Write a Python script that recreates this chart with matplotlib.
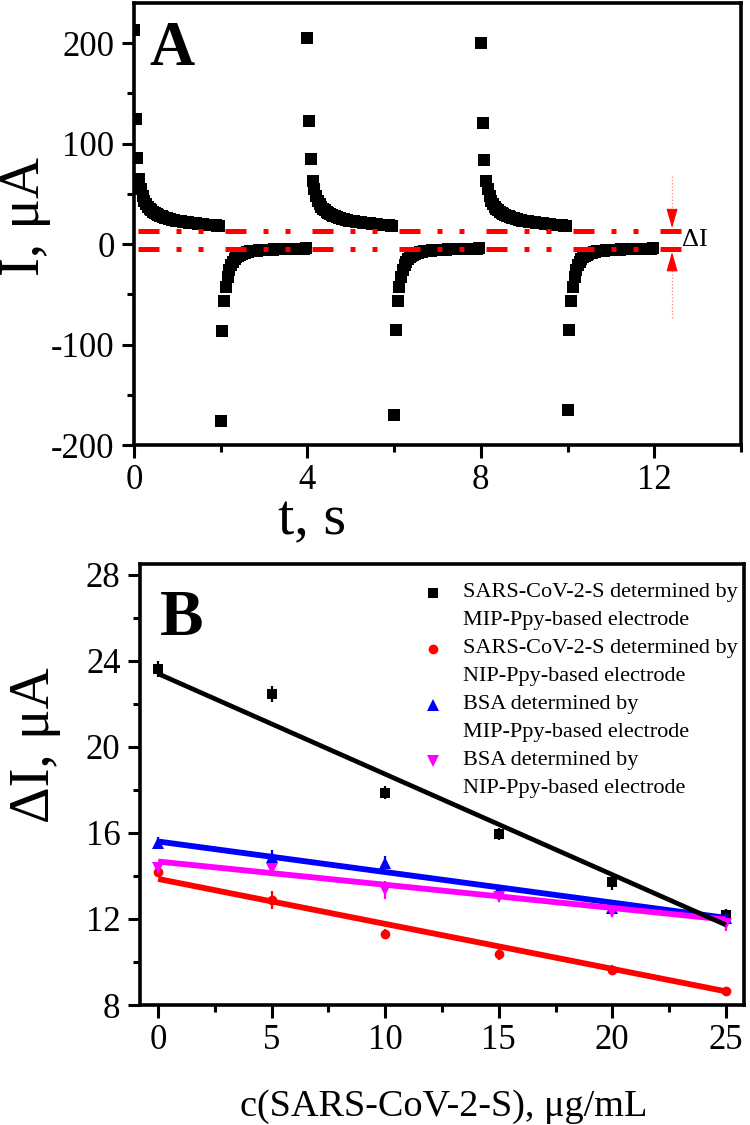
import numpy as np
import matplotlib
matplotlib.use('Agg')
import matplotlib.pyplot as plt
from matplotlib.ticker import MultipleLocator

plt.rcParams['font.family'] = ['Liberation Serif', 'DejaVu Serif']
plt.rcParams['axes.unicode_minus'] = False

# ---------------- Panel A data (chronoamperometry, square-wave pulses) -------------
dt = 0.04                     # sampling interval, s
pos_starts = [0, 4, 8]        # anodic pulse start times, s
neg_starts = [2, 6, 10]       # cathodic pulse start times, s
pos_heads = [[213, 125, 86, 65], [205, 123, 85, 63], [200, 121, 84, 63]]
pos_tail = [55, 48, 43, 39.5, 37, 35, 33.5, 32, 31, 30,
            29, 28.2, 27.5, 26.8, 26.2, 25.6, 25.1, 24.6, 24.2, 23.8,
            23.4, 23.1, 22.8, 22.5, 22.2, 22.0, 21.7, 21.5, 21.3, 21.1,
            20.9, 20.7, 20.5, 20.3, 20.1, 19.9, 19.7, 19.5, 19.4, 19.2,
            19.0, 18.9, 18.7, 18.6, 18.4, 18.3]
neg_heads = [[-176, -87, -57], [-170, -86, -57], [-165, -86, -57]]
neg_tail = [-43, -33, -26, -21, -17.5, -15, -13.2, -11.8, -10.7, -9.8,
            -9.1, -8.5, -8.0, -7.6, -7.3, -7.0, -6.8, -6.6, -6.4, -6.2,
            -6.1, -6.0, -5.9, -5.8, -5.7, -5.6, -5.5, -5.4, -5.3, -5.3,
            -5.2, -5.1, -5.0, -5.0, -4.9, -4.9, -4.8, -4.8, -4.7, -4.7,
            -4.6, -4.6, -4.5, -4.5, -4.4, -4.4, -4.3]
level_upper = 13
level_lower = -5
level_span = [0.09, 12.64]
arrow_t = 12.41

# ---------------- Panel B data -------------
conc = [0, 5, 10, 15, 20, 25]
mip_sars = [23.6, 22.47, 17.86, 15.95, 13.7, 12.2]
mip_sars_err = [0.37, 0.38, 0.30, 0.30, 0.35, 0.25]
nip_sars = [14.2, 12.87, 11.32, 10.38, 9.65, 8.63]
nip_sars_err = [0.25, 0.42, 0.22, 0.30, 0.23, 0.15]
mip_bsa = [15.55, 14.9, 14.62, 13.36, 12.5, 12.05]
mip_bsa_err = [0.26, 0.30, 0.30, 0.20, 0.20, 0.20]
nip_bsa = [14.35, 14.3, 13.36, 13.04, 12.3, 11.75]
nip_bsa_err = [0.25, 0.30, 0.42, 0.25, 0.20, 0.30]
fit_intercept = {'mip_sars': 23.4, 'nip_sars': 13.86, 'mip_bsa': 15.6, 'nip_bsa': 14.67}
fit_slope = {'mip_sars': -0.467, 'nip_sars': -0.209, 'mip_bsa': -0.142, 'nip_bsa': -0.108}
legend_lines = [("SARS-CoV-2-S determined by", "MIP-Ppy-based electrode"),
                ("SARS-CoV-2-S determined by", "NIP-Ppy-based electrode"),
                ("BSA determined by", "MIP-Ppy-based electrode"),
                ("BSA determined by", "NIP-Ppy-based electrode")]

SPINE_LW = 2.6
TICK_FS = 25

fig = plt.figure(figsize=(7.5, 11.25), dpi=100)


def style_axes(ax):
    for s in ax.spines.values():
        s.set_linewidth(SPINE_LW)
    ax.tick_params(which='both', direction='out', width=2.2, top=False, right=False,
                   labelsize=TICK_FS)
    ax.tick_params(which='major', length=9, pad=5)
    ax.tick_params(which='minor', length=5)


# ======================= Panel A =======================
axA = fig.add_axes([134 / 750, 1 - 445 / 1125, 607 / 750, 442 / 1125])
for k, t0 in enumerate(pos_starts):
    vals = pos_heads[k] + pos_tail
    t = t0 + np.arange(len(vals)) * dt
    axA.plot(t, vals, 's', color='black', ms=8.3, mew=0, zorder=3)
for k, t0 in enumerate(neg_starts):
    vals = neg_heads[k] + neg_tail
    t = t0 + np.arange(len(vals)) * dt
    axA.plot(t, vals, 's', color='black', ms=8.3, mew=0, zorder=3)

dash = (0, (4.2, 3.4, 1.0, 3.4, 1.0, 4.4))
for lev in (level_upper, level_lower):
    axA.plot(level_span, [lev, lev], color='red', lw=3.6, linestyle=dash,
             dash_capstyle='butt', zorder=4)

# Delta I arrows
axA.plot([arrow_t, arrow_t], [68, 33], color='#ff8080', lw=0.9, ls=':', zorder=4)
axA.annotate('', xy=(arrow_t, 16), xytext=(arrow_t, 33),
             arrowprops=dict(arrowstyle='-|>,head_length=1.2,head_width=0.35',
                             color='red', lw=0.8, shrinkA=0, shrinkB=0), zorder=5)
axA.plot([arrow_t, arrow_t], [-74, -23], color='#ff8080', lw=0.9, ls=':', zorder=4)
axA.annotate('', xy=(arrow_t, -8), xytext=(arrow_t, -23),
             arrowprops=dict(arrowstyle='-|>,head_length=1.2,head_width=0.35',
                             color='red', lw=0.8, shrinkA=0, shrinkB=0), zorder=5)
axA.text(12.64, 4, 'ΔI', fontsize=19, va='center', ha='left')

axA.set_xlim(0, 14)
axA.set_ylim(-200, 240)
axA.xaxis.set_major_locator(MultipleLocator(4))
axA.xaxis.set_minor_locator(MultipleLocator(2))
axA.yaxis.set_major_locator(MultipleLocator(100))
axA.yaxis.set_minor_locator(MultipleLocator(50))
style_axes(axA)
axA.set_xlabel('t, s', fontsize=42)
axA.set_ylabel('I, μA', fontsize=41)
axA.xaxis.set_label_coords(0.293, -0.17)
axA.xaxis.label.set_va('center')
axA.yaxis.set_label_coords(-0.18, 0.516)
axA.yaxis.label.set_va('center')
axA.text(0.026, 0.86, 'A', transform=axA.transAxes, fontsize=45, fontweight='bold',
         va='baseline', ha='left')

# ======================= Panel B =======================
axB = fig.add_axes([140 / 750, 1 - 1005 / 1125, 604 / 750, 441 / 1125])
series = [('mip_sars', mip_sars, mip_sars_err, 's', 'black', 6.5),
          ('nip_sars', nip_sars, nip_sars_err, 'o', 'red', 7.0),
          ('mip_bsa', mip_bsa, mip_bsa_err, '^', 'blue', 8.0),
          ('nip_bsa', nip_bsa, nip_bsa_err, 'v', 'magenta', 8.0)]
for key, y, e, m, c, ms in series:
    axB.errorbar(conc, y, yerr=e, fmt=m, color=c, ms=ms, mew=0, ecolor=c,
                 elinewidth=1.6, capsize=7, capthick=2.0, zorder=3)
line_order = ['nip_sars', 'mip_bsa', 'nip_bsa', 'mip_sars']
line_col = {'mip_sars': 'black', 'nip_sars': 'red', 'mip_bsa': 'blue', 'nip_bsa': 'magenta'}
line_lw = {'mip_sars': 3.4, 'nip_sars': 4.2, 'mip_bsa': 4.2, 'nip_bsa': 4.2}
xfit = np.array([conc[0], conc[-1]], dtype=float)
for key in line_order:
    axB.plot(xfit, fit_intercept[key] + fit_slope[key] * xfit, color=line_col[key],
             lw=line_lw[key], solid_capstyle='butt', zorder=4)

axB.set_xlim(-0.8, 25.8)
axB.set_ylim(8, 28.5)
axB.xaxis.set_major_locator(MultipleLocator(5))
axB.xaxis.set_minor_locator(MultipleLocator(2.5))
axB.yaxis.set_major_locator(MultipleLocator(4))
axB.yaxis.set_minor_locator(MultipleLocator(2))
style_axes(axB)
axB.set_xlabel('c(SARS-CoV-2-S), μg/mL', fontsize=27.5)
axB.set_ylabel('ΔI, μA', fontsize=41)
axB.xaxis.set_label_coords(0.503, -0.231)
axB.xaxis.label.set_va('center')
axB.yaxis.set_label_coords(-0.174, 0.59)
axB.yaxis.label.set_va('center')
axB.text(0.033, 0.839, 'B', transform=axB.transAxes, fontsize=47, fontweight='bold',
         va='baseline', ha='left')

# manual legend
leg_x_marker = (433 - 140) / 604
leg_x_text = (463 - 140) / 604
leg_y0 = (1005 - 593) / 441
pitch = 28 / 441
for i, (key, y, e, m, c, ms) in enumerate(series):
    y1 = leg_y0 - 2 * i * pitch
    axB.plot([leg_x_marker], [y1], m, color=c, ms=ms, mew=0, transform=axB.transAxes,
             clip_on=False)
    axB.text(leg_x_text, y1, legend_lines[i][0], transform=axB.transAxes,
             fontsize=16, va='center', ha='left')
    axB.text(leg_x_text, y1 - pitch, legend_lines[i][1], transform=axB.transAxes,
             fontsize=16, va='center', ha='left')

fig.savefig('out.png', dpi=100)
